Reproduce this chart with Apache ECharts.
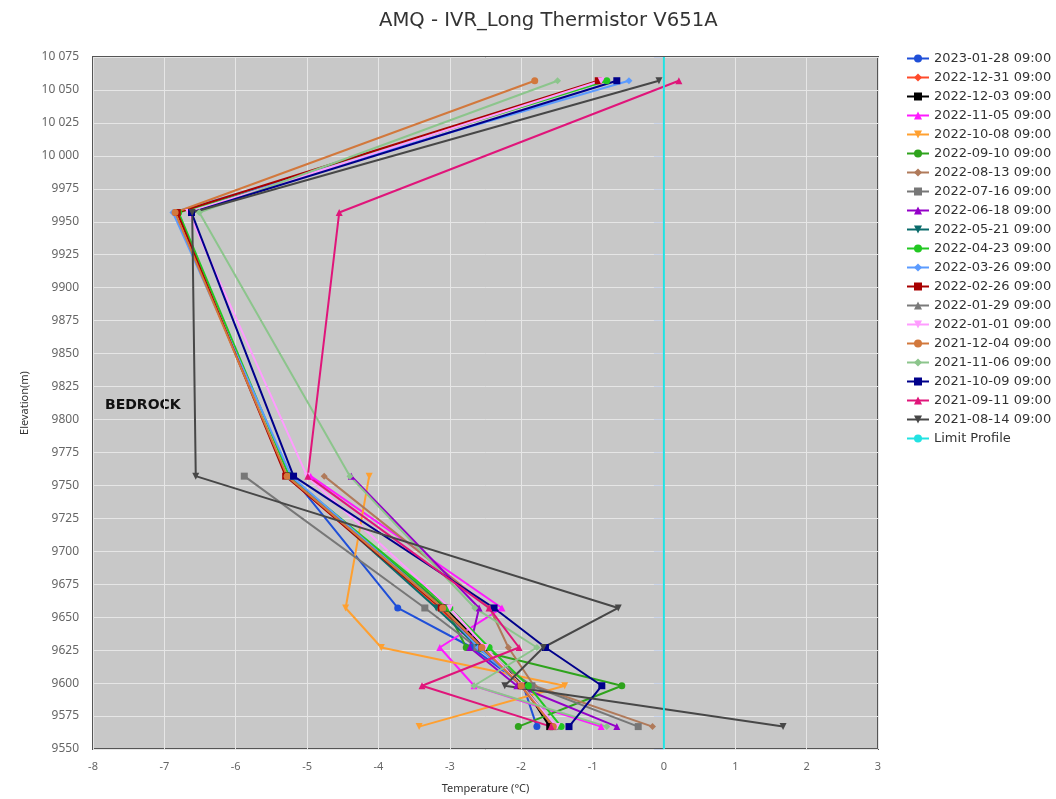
<!DOCTYPE html>
<html>
<head>
<meta charset="utf-8">
<script src="https://cdn.jsdelivr.net/npm/echarts@6/dist/echarts.min.js"></script>
<style>html,body{margin:0;padding:0;background:#fff}#c{width:1056px;height:799px}</style>
</head>
<body>
<div id="c"></div>
<script>
// Elevation levels of the thermistor beads (m)
const elevations = [10057, 9957, 9757, 9657, 9627, 9598, 9567];
const seriesNames = [
  '2023-01-28 09:00','2022-12-31 09:00','2022-12-03 09:00','2022-11-05 09:00','2022-10-08 09:00',
  '2022-09-10 09:00','2022-08-13 09:00','2022-07-16 09:00','2022-06-18 09:00','2022-05-21 09:00',
  '2022-04-23 09:00','2022-03-26 09:00','2022-02-26 09:00','2022-01-29 09:00','2022-01-01 09:00',
  '2021-12-04 09:00','2021-11-06 09:00','2021-10-09 09:00','2021-09-11 09:00','2021-08-14 09:00'
];
// Temperatures (°C) per date, aligned with elevations (null = no reading)
const t20230128 = [null, null, -5.22, -3.73, -2.69, -1.97, -1.78];
const t20221231 = [null, null, -5.29, -3.15, -2.56, -2.00, -1.56];
const t20221203 = [null, null, -5.26, -3.07, -2.52, -1.97, -1.60];
const t20221105 = [null, null, -4.95, -2.27, -3.14, -2.66, -0.88];
const t20221008 = [null, null, -4.13, -4.46, -3.96, -1.39, -3.43];
const t20220910 = [null, null, -5.25, -3.05, -2.77, -0.59, -2.04];
const t20220813 = [null, null, -4.76, -2.44, -2.18, -1.82, -0.16];
const t20220716 = [null, null, -5.88, -3.35, -2.62, -1.85, -0.36];
const t20220618 = [null, null, -4.38, -2.59, -2.72, -2.06, -0.66];
const t20220521 = [null, null, -5.25, -3.19, -2.60, -1.98, -1.52];
const t20220423 = [-0.80, -6.80, -5.25, -3.00, -2.45, -1.90, -1.44];
const t20220326 = [-0.49, -6.88, -5.22, -3.10, -2.60, -2.00, -1.55];
const t20220226 = [-0.92, -6.82, -5.30, -3.12, -2.55, -2.00, -1.55];
const t20220129 = [null, null, -5.27, -3.10, -2.55, -1.98, -1.52];
const t20220101 = [-0.88, -6.66, -5.00, -3.00, -2.50, -2.00, -1.50];
const t20211204 = [-1.81, -6.85, -5.28, -3.10, -2.55, -2.00, -1.55];
const t20211106 = [-1.49, -6.51, -4.40, -2.65, -1.78, -2.66, -0.80];
const t20211009 = [-0.66, -6.62, -5.19, -2.38, -1.66, -0.87, -1.33];
const t20210911 = [0.21, -4.55, -4.99, -2.45, -2.03, -3.39, -1.58];
const t20210814 = [-0.07, -6.61, -6.56, -0.64, -1.69, -2.23, 1.67];
const limitTemps = [0, 0];
const limitElev = [9550, 10075];

const tempSets = [t20230128,t20221231,t20221203,t20221105,t20221008,t20220910,t20220813,t20220716,
  t20220618,t20220521,t20220423,t20220326,t20220226,t20220129,t20220101,t20211204,t20211106,
  t20211009,t20210911,t20210814];
const colors = ['#1f4fd8','#ff4a2a','#000000','#ff1aff','#ffa030','#2ea31c','#b07a5a','#777777',
  '#9400c8','#0a6b6b','#22c822','#5b9bff','#a80000','#7a7a7a','#ff9cff','#d2783c','#8cc58c',
  '#00008b','#e0157a','#474747'];
const symbols = ['circle','diamond','rect','triangle','path://M0,0 L10,0 L5,10 Z'];

const series = tempSets.map((ts, i) => ({
  name: seriesNames[i],
  type: 'line',
  data: elevations.map((e, k) => ts[k] === null ? null : [ts[k], e]).filter(d => d),
  symbol: symbols[i % 5],
  symbolSize: 7,
  color: colors[i],
  lineStyle: { width: 2, color: colors[i] },
  itemStyle: { color: colors[i] },
  animation: false
}));
series.push({
  name: 'Limit Profile', type: 'line',
  data: limitElev.map((e, k) => [limitTemps[k], e]),
  symbol: 'circle', symbolSize: 7, showSymbol: false,
  color: '#22e2e2', lineStyle: { width: 2, color: '#22e2e2' }, itemStyle: { color: '#22e2e2' },
  animation: false
});

const chart = echarts.init(document.getElementById('c'));
chart.setOption({
  animation: false,
  textStyle: { fontFamily: 'Noto Sans' },
  title: {
    text: 'AMQ - IVR_Long Thermistor V651A', left: 374, top: 6,
    textStyle: { fontSize: 19.6, fontWeight: 'normal', color: '#333', fontFamily: 'DejaVu Sans' }
  },
  legend: {
    orient: 'vertical', left: 901, top: 47, itemWidth: 22, itemHeight: 10, itemGap: 6,
    textStyle: { fontSize: 13, color: '#333', fontFamily: 'DejaVu Sans' },
    data: seriesNames.concat(['Limit Profile'])
  },
  grid: { left: 93, right: 178, top: 57, bottom: 47, show: true, backgroundColor: '#c8c8c8',
    borderColor: '#555', borderWidth: 2 },
  xAxis: {
    type: 'value', min: -8, max: 3, interval: 1,
    name: 'Temperature (°C)', nameLocation: 'middle', nameGap: 34,
    nameTextStyle: { fontSize: 11, color: '#333' },
    axisLine: { show: false }, axisTick: { show: false },
    axisLabel: { fontSize: 11, color: '#666', margin: 12 },
    splitLine: { lineStyle: { color: '#e6e6e6', width: 1 } }
  },
  yAxis: {
    type: 'value', min: 9550, max: 10075, interval: 25,
    name: 'Elevation(m)', nameLocation: 'middle', nameGap: 58, nameRotate: 90,
    nameTextStyle: { fontSize: 11, color: '#333' },
    axisLine: { show: false },
    axisTick: { show: true, inside: false, length: 10, lineStyle: { color: '#ccd6eb' } },
    axisLabel: { fontSize: 12, color: '#666', margin: 14,
      formatter: v => v >= 10000 ? String(v).replace(/\B(?=(\d{3})+(?!\d))/g, ' ') : String(v) },
    splitLine: { lineStyle: { color: '#e6e6e6', width: 1 } }
  },
  graphic: [{
    type: 'text', left: 105, top: 398,
    style: { text: 'BEDROCK', fontSize: 14, fontWeight: 'bold', fill: '#111', fontFamily: 'DejaVu Sans' }
  }],
  series: series
});
</script>
</body>
</html>
